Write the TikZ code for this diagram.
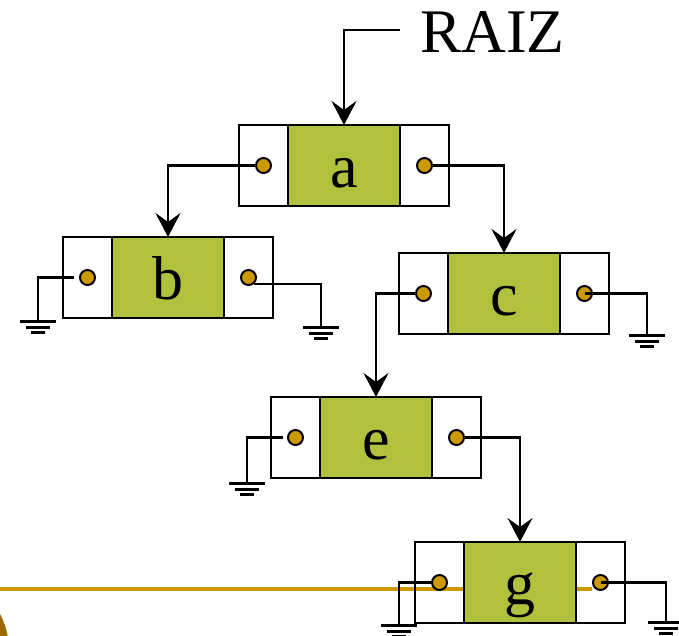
\documentclass[tikz,border=0pt]{standalone}
\usepackage{fontspec}
\setmainfont{Liberation Serif}
\usetikzlibrary{arrows.meta}
\definecolor{dataGreen}{RGB}{177,193,62}
\definecolor{dotGold}{RGB}{204,153,0}
\definecolor{lineGold}{RGB}{204,153,0}
\definecolor{decoBrown}{RGB}{156,104,0}
\tikzset{
  cellbox/.style={draw=black, line width=2.6pt, minimum width=49pt, minimum height=81pt, inner sep=0pt, outer sep=0pt},
  databox/.style={draw=black, fill=dataGreen, line width=2.6pt, minimum width=112pt, minimum height=81pt, inner sep=0pt, outer sep=0pt,
    font=\fontsize{62}{62}\selectfont, text height=44pt, text depth=0pt},
  dot/.style={circle, draw=black, fill=dotGold, line width=2pt, minimum size=15pt, inner sep=0pt},
  wire/.style={draw=black, line width=2.4pt},
  arr/.style={wire, -{Stealth[length=24pt, width=25pt, inset=9pt]}},
  gnd/.pic={\draw[line width=3pt] (-18,0)--(18,0) (-12,6)--(12,6) (-7,11)--(7,11);}
}
\newcommand\listnode[4]{%
  \node[cellbox] (#1-l) at (#2+24.5,#3+40.5) {};
  \node[databox] (#1-m) at (#2+105,#3+40.5) {#4};
  \node[cellbox] (#1-r) at (#2+185.5,#3+40.5) {};
  \node[dot] (#1-lc) at (#1-l.center) {};
  \node[dot] (#1-rc) at (#1-r.center) {};
}
\begin{document}
\begin{tikzpicture}[x=1pt, y=-1pt]
\useasboundingbox (0,0) rectangle (679,636);
% decorations
\fill[decoBrown] (-67,650) circle (76);
\draw[lineGold, line width=4pt] (0,589) -- (592,589);
% list nodes
\listnode{a}{239}{125}{a}
\listnode{b}{63}{237}{b}
\listnode{c}{399}{253}{c}
\listnode{e}{271}{397}{e}
\listnode{g}{415}{542}{g}
% root label
\node[anchor=base west, inner sep=0pt, font=\fontsize{62}{62}\selectfont] (raiz) at (420,53) {RAIZ};
\coordinate (raizend) at (400,30);
\draw[arr] (raizend) -| (a-m.north);
% pointers
\draw[arr] (a-lc.west) -| (b-m.north);
\draw[arr] (a-rc.east) -| (c-m.north);
\draw[arr] (c-lc.west) -| (e-m.north);
\draw[arr] (e-rc.east) -| (g-m.north);
% grounds
\coordinate (b-lg) at (38,321);
\coordinate (b-rg) at (321,327);
\coordinate (c-rg) at (647,335);
\coordinate (e-lg) at (247,483);
\coordinate (g-lg) at (399,625);
\coordinate (g-rg) at (666,622);
\draw[wire, shorten <=5pt] (b-lc.west) -| (b-lg);
\draw[wire] (b-rc.-50) -| (b-rg);
\draw[wire] (c-rc.center) -| (c-rg);
\draw[wire, shorten <=4pt] (e-lc.west) -| (e-lg);
\draw[wire] (g-lc.west) -| (g-lg);
\draw[wire] (g-rc.center) -| (g-rg);
\pic at (b-lg) {gnd};
\pic at (b-rg) {gnd};
\pic at (c-rg) {gnd};
\pic at (e-lg) {gnd};
\pic at (g-lg) {gnd};
\pic at (g-rg) {gnd};
\end{tikzpicture}
\end{document}
